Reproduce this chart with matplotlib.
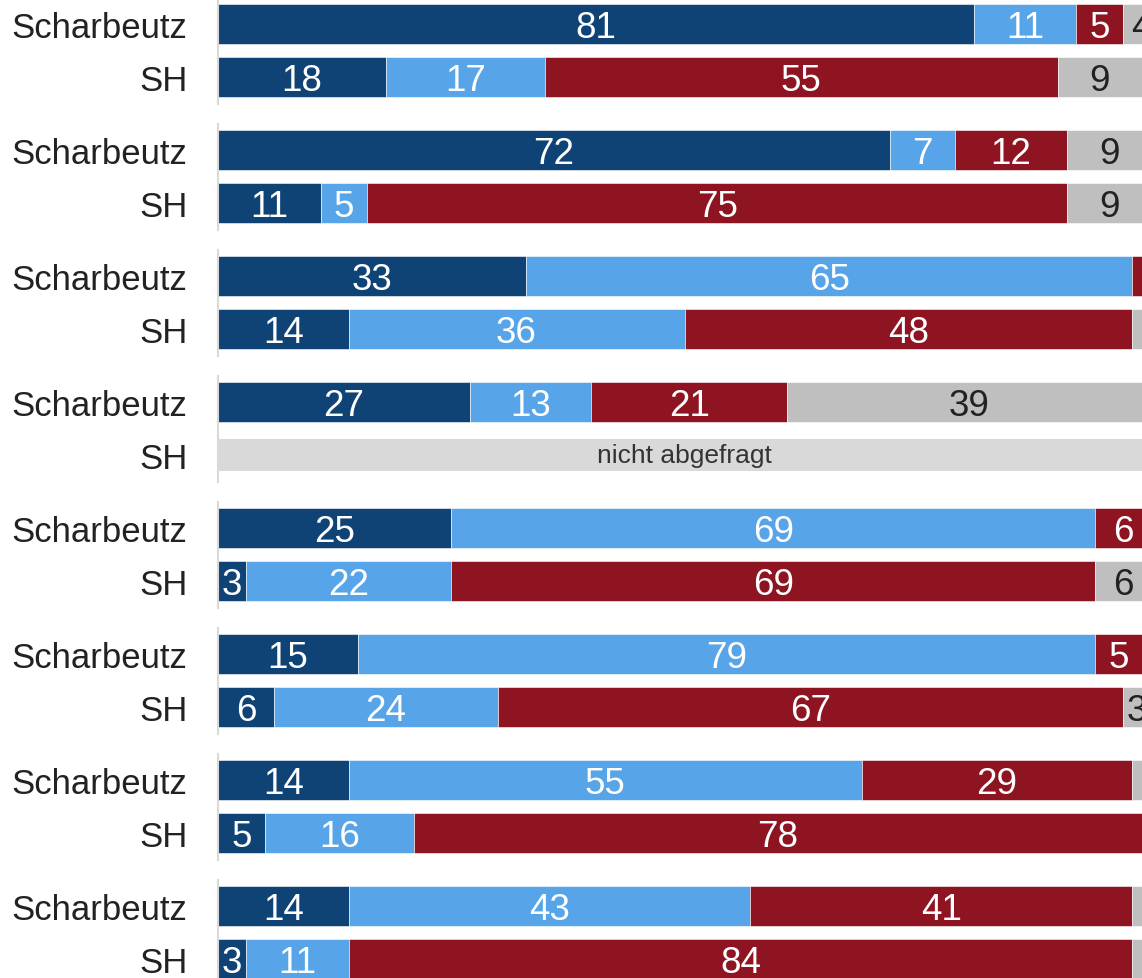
import matplotlib.pyplot as plt

plt.rcParams['font.family'] = ['Liberation Sans', 'DejaVu Sans']

# Zeilen je Gruppe
zeilen = ['Scharbeutz', 'SH']

# Werte Scharbeutz (dunkelblau, hellblau, rot, grau)
scharbeutz_dunkelblau = [81, 72, 33, 27, 25, 15, 14, 14]
scharbeutz_hellblau = [11, 7, 65, 13, 69, 79, 55, 43]
scharbeutz_rot = [5, 12, 2, 21, 6, 5, 29, 41]
scharbeutz_grau = [4, 9, 0, 39, 0, 1, 2, 2]

# Werte SH (None = nicht abgefragt)
sh_dunkelblau = [18, 11, 14, None, 3, 6, 5, 3]
sh_hellblau = [17, 5, 36, None, 22, 24, 16, 11]
sh_rot = [55, 75, 48, None, 69, 67, 78, 84]
sh_grau = [9, 9, 2, None, 6, 3, 1, 1]

farben = ['#104375', '#57a5e8', '#8e1422', '#bfbfbf']
textfarben = ['white', 'white', 'white', '#222222']

W, H = 1142, 979
fig = plt.figure(figsize=(W / 100, H / 100), dpi=100)

links_px = 218
breite_px = 933
hoehe_px = 106
abstand_px = 126


def zeichne_balken(ax, y, werte):
    start = 0
    for wert, farbe, tfarbe in zip(werte, farben, textfarben):
        if wert > 0:
            ax.barh(y, wert, left=start, height=0.74, color=farbe,
                    edgecolor='white', linewidth=0.4)
            if wert >= 3:
                # Grundlinie etwas unter die Mitte, damit die Ziffern mittig sitzen
                ax.text(start + wert / 2, y + 0.25, str(wert), ha='center',
                        va='baseline', color=tfarbe, fontsize=26.5)
        start += wert


for i in range(8):
    oben = -1 + abstand_px * i
    ax = fig.add_axes([links_px / W, 1 - (oben + hoehe_px) / H,
                       breite_px / W, hoehe_px / H])

    werte_s = [scharbeutz_dunkelblau[i], scharbeutz_hellblau[i],
               scharbeutz_rot[i], scharbeutz_grau[i]]
    zeichne_balken(ax, 0, werte_s)

    if sh_dunkelblau[i] is None:
        ax.barh(1, 100, height=0.62, color='#d9d9d9')
        ax.text(50, 1, 'nicht abgefragt', ha='center', va='center',
                color='#333333', fontsize=19)
    else:
        werte_sh = [sh_dunkelblau[i], sh_hellblau[i], sh_rot[i], sh_grau[i]]
        zeichne_balken(ax, 1, werte_sh)

    ax.set_xlim(0, 100)
    ax.set_ylim(1.51, -0.49)
    ax.set_yticks([0, 1])
    ax.set_yticklabels(zeilen, fontsize=25, color='#222222')
    ax.tick_params(axis='y', length=0, pad=22)
    ax.set_xticks([])
    for s in ['top', 'right', 'bottom']:
        ax.spines[s].set_visible(False)
    ax.spines['left'].set_color('#d9d9d9')
    ax.spines['left'].set_linewidth(1.5)

fig.savefig('out.png', dpi=100)
